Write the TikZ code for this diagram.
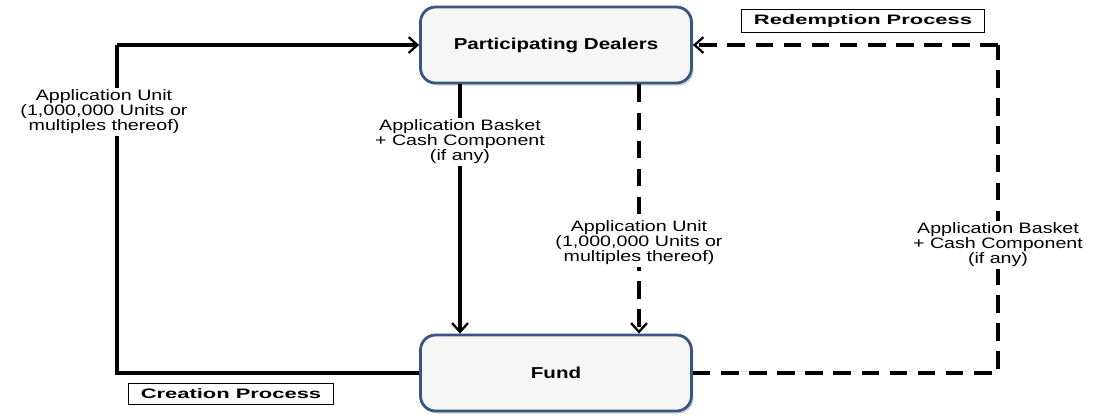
\documentclass[tikz,border=0pt]{standalone}
\usepackage{fontspec}
\setmainfont{Liberation Sans}
\newfontfamily\widefont[FakeStretch=1.3]{Liberation Sans}
\newfontfamily\tagfont[FakeStretch=1.6]{Liberation Sans}
\usetikzlibrary{arrows.meta,shadows}

\definecolor{boxline}{RGB}{58,86,128}
\definecolor{boxfill}{RGB}{246,246,246}

\tikzset{
  party/.style={draw=boxline, line width=1.6pt, fill=boxfill, rounded corners=0.3cm,
    minimum width=5.42cm, minimum height=1.52cm, font=\widefont\bfseries\fontsize{9}{11}\selectfont,
    drop shadow={shadow xshift=0.04cm, shadow yshift=-0.05cm, opacity=0.35}},
  flow/.style={line width=1.8pt},
  dflow/.style={line width=1.8pt, dash pattern=on 10pt off 6pt},
  tip/.style={-{Straight Barb[length=5pt,width=9pt,line width=1.3pt]}},
  lbl/.style={fill=white, align=center, inner sep=1pt, font=\widefont\fontsize{8.6}{8.5}\selectfont},
  tag/.style={draw, line width=0.6pt, inner xsep=7pt, inner ysep=3pt, font=\tagfont\bfseries\fontsize{7.8}{9}\selectfont}
}

\begin{document}
\begin{tikzpicture}[x=0.02cm, y=-0.02cm]
  \useasboundingbox (0,0) rectangle (1094,417);

  \node[party] (dealers) at (556,45) {Participating Dealers};
  \node[party] (fund) at (556,373) {Fund};

  % creation side
  \coordinate (lc) at (117,45);
  \draw[flow] (fund.west) -| (lc);
  \draw[flow,tip] (lc) -- (dealers.west);
  \draw[flow,tip] (460,0 |- dealers.south) -- (460,0 |- fund.north);

  % redemption side
  \coordinate (rc) at (998,45);
  \draw[dflow] (fund.east) -| (rc);
  \draw[dflow,tip] (rc) -- (dealers.east);
  \draw[dflow,tip] (639,0 |- dealers.south) -- (639,0 |- fund.north);

  \node[lbl] (unitl) at (104,112) {Application Unit\\(1,000,000 Units or\\multiples thereof)};
  \node[lbl] (basketl) at (460,142) {Application Basket\\+ Cash Component\\(if any)};
  \node[lbl] (unitr) at (639,243) {Application Unit\\(1,000,000 Units or\\multiples thereof)};
  \node[lbl] (basketr) at (998,245) {Application Basket\\+ Cash Component\\(if any)};

  \node[tag] (redeem) at (863,21) {Redemption Process};
  \node[tag] (create) at (231,394) {Creation Process};
\end{tikzpicture}
\end{document}
